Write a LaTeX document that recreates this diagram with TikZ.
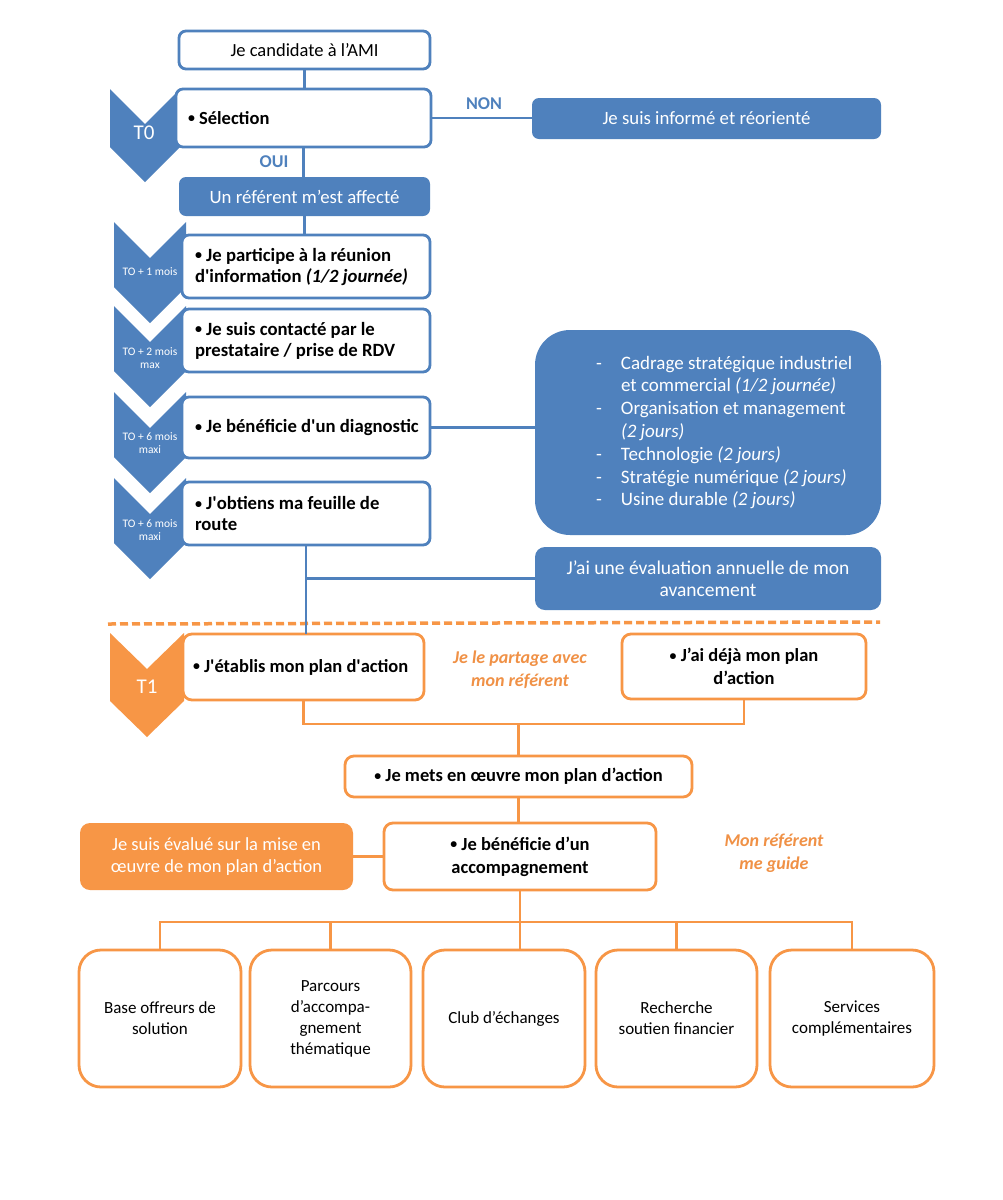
\documentclass[tikz,border=0pt]{standalone}
\usepackage{fontspec}
\usepackage{graphicx}
\setmainfont{Carlito}
\definecolor{myblue}{RGB}{79,129,189}
\definecolor{myorange}{RGB}{247,150,70}
\definecolor{otext}{RGB}{240,145,70}
\newcommand\mychev[6]{\fill[#6] (#1,#2) -- ++(#3/2,#5) -- ++(#3/2,-#5) -- ++(0,#4-#5) -- ++(-#3/2,#5) -- ++(-#3/2,-#5) -- cycle;}
\newcommand\sq{\textquotesingle}
\newcommand\bul{\raisebox{0.08em}{\scalebox{0.75}{•}}}
\tikzset{
  base/.style={inner sep=0pt, outer sep=0pt},
  bbox/.style={base, draw=myblue, line width=2.8pt, fill=white, rounded corners=7pt, font=\fontsize{18.5}{21}\selectfont},
  bboxl/.style={bbox, minimum width=248pt, align=flush left, text width=222pt, inner xsep=13pt, font=\bfseries\fontsize{18.7}{21}\selectfont},
  bfill/.style={base, fill=myblue, rounded corners=7pt, text=white, align=center, font=\fontsize{18.8}{22}\selectfont},
  bigbox/.style={base, fill=myblue, rounded corners=35pt, text=white, minimum width=346pt, minimum height=205pt, align=flush left, text width=224pt, inner xsep=61pt, font=\fontsize{19}{22.8}\selectfont},
  obox/.style={base, draw=myorange, line width=2.8pt, fill=white, rounded corners=9pt, align=center, font=\bfseries\fontsize{18.5}{23}\selectfont},
  ofill/.style={base, fill=myorange, rounded corners=10pt, text=white, align=center, font=\fontsize{18.5}{22}\selectfont},
  sbox/.style={base, draw=myorange, line width=2.8pt, fill=white, rounded corners=22pt, align=center, minimum height=137pt, font=\fontsize{17}{21}\selectfont},
  bline/.style={draw=myblue, line width=2.5pt},
  oline/.style={draw=myorange, line width=2.5pt},
  chevtxt/.style={text=white, align=center, font=\fontsize{11.5}{13}\selectfont},
  tlbl/.style={text=white, font=\fontsize{21}{21}\selectfont},
  lbl/.style={text=myblue, font=\bfseries\fontsize{18}{20}\selectfont},
  olbl/.style={text=otext, align=center, font=\bfseries\itshape\fontsize{18}{23}\selectfont},
}
\begin{document}
\begin{tikzpicture}[x=1pt,y=-1pt]
\useasboundingbox[fill=white] (0,0) rectangle (1003,1200);

% chevrons (blue)
\mychev{110}{89}{70}{93}{35}{myblue}
\mychev{114}{222}{72}{101}{36}{myblue}
\mychev{114}{306}{72}{101}{36}{myblue}
\mychev{114}{392}{72}{101}{36}{myblue}
\mychev{114}{478}{72}{101}{36}{myblue}
\node[tlbl] (t0) at (144,133) {T0};
\node[chevtxt] (c1) at (150,272) {TO + 1 mois};
\node[chevtxt] (c2) at (150,358) {TO + 2 mois\\max};
\node[chevtxt] (c3) at (150,443) {TO + 6 mois\\maxi};
\node[chevtxt] (c4) at (150,530) {TO + 6 mois\\maxi};

% top blue part
\node[bbox, minimum width=251pt, minimum height=38pt] (ami) at (304.5,50) {Je candidate à l’AMI};
\node[bbox, minimum width=255pt, minimum height=58pt, align=flush left, text width=231pt, inner xsep=12pt] (sel) at (303.5,118) {\mbox{\textbf{\bul\ Sélection}}};
\node[bfill, minimum width=349pt, minimum height=41pt] (reor) at (706.5,118.5) {Je suis informé et réorienté};
\node[lbl] (non) at (484,104) {NON};
\node[lbl] (oui) at (274,162) {OUI};
\node[bfill, minimum width=251pt, minimum height=39pt] (ref) at (304.5,196.5) {Un référent m’est affecté};

\node[bboxl, minimum height=63pt] (s1) at (306,266.5) {\mbox{\bul\ Je participe à la réunion}\\\mbox{d\sq information \textit{(1/2 journée)}}};
\node[bboxl, minimum height=63pt] (s2) at (306,340.5) {\mbox{\bul\ Je suis contacté par le}\\\mbox{prestataire / prise de RDV}};
\node[bboxl, minimum height=61pt] (s3) at (306,427.5) {\mbox{\bul\ Je bénéficie d\sq un diagnostic}};
\node[bboxl, minimum height=63pt] (s4) at (306,513.5) {\mbox{\bul\ J\sq obtiens ma feuille de}\\\mbox{route}};

\node[bigbox] (diag) at (708,432.5) {%
\mbox{\makebox[25pt][l]{-}Cadrage stratégique industriel}\\
\mbox{\hspace*{25pt}et commercial \textit{(1/2 journée)}}\\
\mbox{\makebox[25pt][l]{-}Organisation et management}\\
\mbox{\hspace*{25pt}\textit{(2 jours)}}\\
\mbox{\makebox[25pt][l]{-}Technologie \textit{(2 jours)}}\\
\mbox{\makebox[25pt][l]{-}Stratégie numérique \textit{(2 jours)}}\\
\mbox{\makebox[25pt][l]{-}Usine durable \textit{(2 jours)}}};
\node[bfill, minimum width=346pt, minimum height=63pt, rounded corners=10pt, font=\fontsize{19.5}{22}\selectfont] (eval) at (708,578.5) {J’ai une évaluation annuelle de mon\\avancement};

% dashed separator
\draw[myorange, line width=3.5pt, dash pattern=on 8pt off 4pt] (108,624) -- (880,622);

% blue connectors
\draw[bline] (ami.south) -- (ami.south |- sel.north);
\draw[bline] (sel.east) -- (sel.east -| reor.west);
\draw[bline] (sel.south) -- (sel.south |- ref.north);
\draw[bline] (ref.south) -- (ref.south |- s1.north);
\draw[bline] (s3.east) -- (s3.east -| diag.west);

% orange part
\mychev{110}{633}{74}{104}{36}{myorange}
\node[tlbl] (t1) at (147,687) {T1};
\node[obox, minimum width=241pt, minimum height=66pt, align=flush left, text width=221pt, inner xsep=10pt] (t1box) at (303.5,667) {\mbox{\bul\ J\sq établis mon plan d\sq action}};
\node[olbl] (part) at (520,669.5) {Je le partage avec\\mon référent};
\node[obox, minimum width=244pt, minimum height=65pt] (deja) at (744,666.5) {\bul\ J’ai déjà mon plan\\d’action};
\node[obox, minimum width=347pt, minimum height=41pt] (mets) at (518.5,776.5) {\bul\ Je mets en œuvre mon plan d’action};
\node[obox, minimum width=272pt, minimum height=67pt] (acc) at (520,856.5) {\bul\ Je bénéficie d’un\\accompagnement};
\node[ofill, minimum width=273pt, minimum height=67pt] (eva) at (216.5,856.5) {Je suis évalué sur la mise en\\œuvre de mon plan d’action};
\node[olbl] (guide) at (774,853) {Mon référent\\me guide};

\node[sbox, minimum width=162pt] (b1) at (160,1018.5) {Base offreurs de\\solution};
\node[sbox, minimum width=161pt] (b2) at (330.5,1018.5) {Parcours\\d’accompa-\\gnement\\thématique};
\node[sbox, minimum width=162pt] (b3) at (504,1018.5) {Club d’échanges};
\node[sbox, minimum width=161pt] (b4) at (676.5,1018.5) {Recherche\\soutien financier};
\node[sbox, minimum width=164pt] (b5) at (852,1018.5) {Services\\complémentaires};

% blue connectors crossing into the orange part
\draw[bline] (s4.south) -- (s4.south |- t1box.north);
\draw[bline] (s4.south |- eval.west) -- (eval.west);

% orange connectors
\coordinate (jy) at (0,724);
\coordinate (by) at (0,922);
\draw[oline] (t1box.south) |- (jy -| deja.south) -- (deja.south);
\draw[oline] (mets.north) -- (mets.north |- jy);
\draw[oline] (mets.south) -- (mets.south |- acc.north);
\draw[oline] (eva.east) -- (acc.west);
\draw[oline] (acc.south) -- (acc.south |- b3.north);
\draw[oline] (b1.north) |- (by -| b5.north) -- (b5.north);
\draw[oline] (b2.north) -- (b2.north |- by);
\draw[oline] (b4.north) -- (b4.north |- by);
\end{tikzpicture}
\end{document}
